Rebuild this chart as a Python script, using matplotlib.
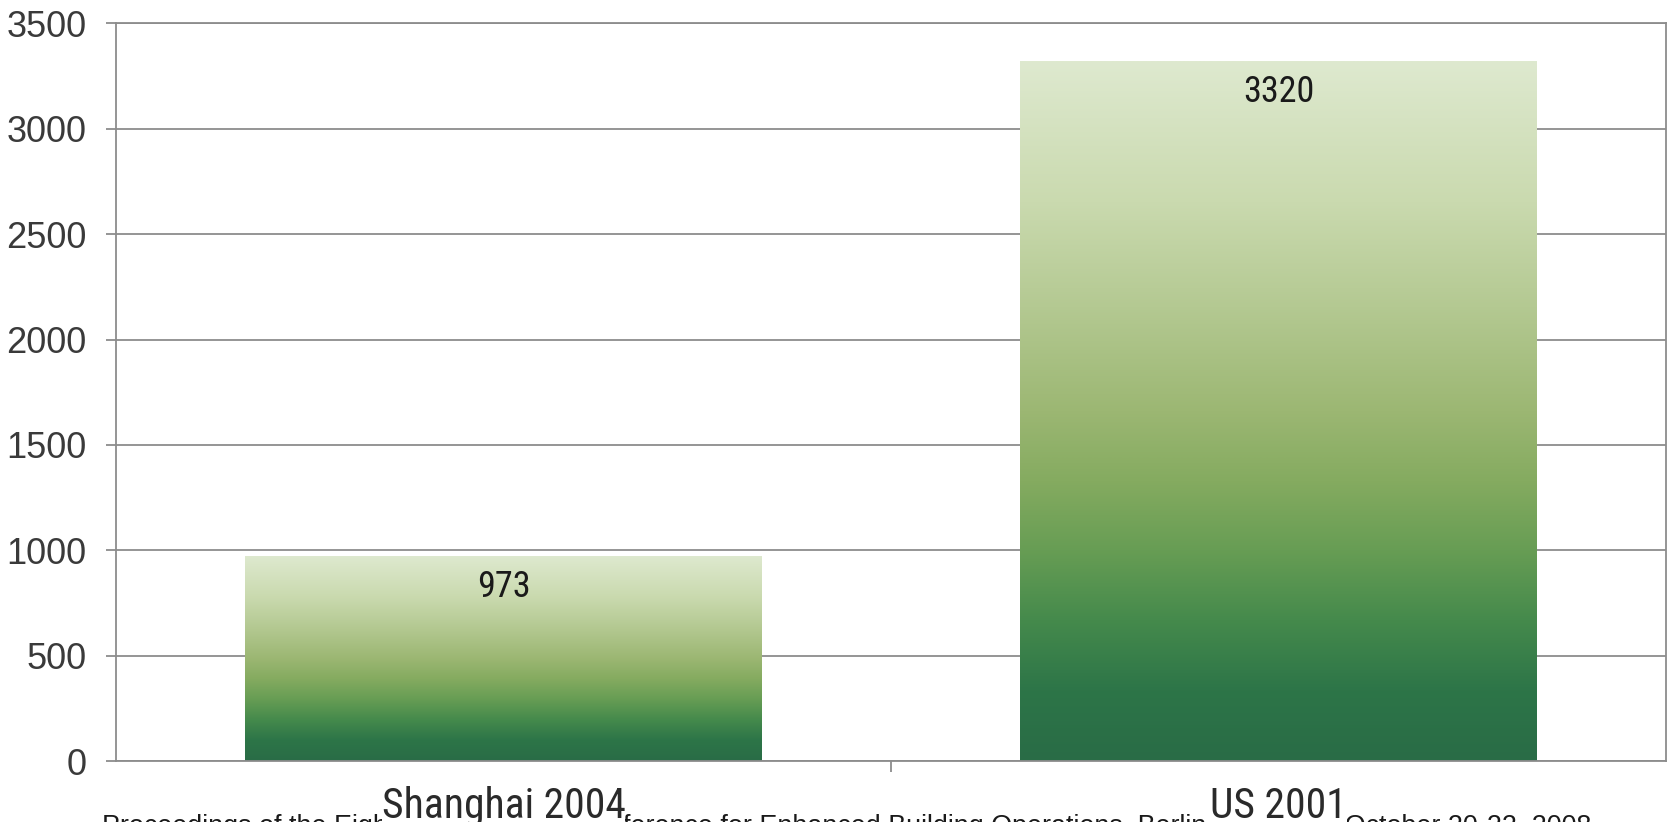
import numpy as np
import matplotlib.pyplot as plt
from matplotlib.colors import LinearSegmentedColormap

categories = ["Shanghai 2004", "US 2001"]
values = [973, 3320]
yticks = [0, 500, 1000, 1500, 2000, 2500, 3000, 3500]
footer = ("Proceedings of the Eighth International Conference for Enhanced Building "
          "Operations, Berlin, Germany, October 20-22, 2008")

# dark green at the bottom of each bar, pale at the top
grad = LinearSegmentedColormap.from_list("bargrad", [
    (0.00, "#296c46"),
    (0.10, "#2d7548"),
    (0.20, "#458a4c"),
    (0.30, "#679d54"),
    (0.40, "#85ab60"),
    (0.50, "#9cb773"),
    (0.65, "#b4c992"),
    (0.80, "#cadaaf"),
    (1.00, "#dee9cf"),
])

fig = plt.figure(figsize=(16.72, 8.22), dpi=100)
ax = fig.add_axes([116 / 1672, 1 - 761 / 822, 1550 / 1672, (761 - 23.5) / 822])

x = np.arange(len(categories))
bars = ax.bar(x, values, width=0.666, color="none", zorder=2)
ax.set_xlim(-0.5, len(categories) - 0.5)
ax.set_ylim(0, 3500)

# gradient fill clipped to each bar
g = np.linspace(0, 1, 256).reshape(-1, 1)
for b in bars:
    bx, by = b.get_x(), b.get_y()
    w, h = b.get_width(), b.get_height()
    im = ax.imshow(g, cmap=grad, origin="lower", aspect="auto",
                   extent=(bx, bx + w, by, by + h), zorder=2)
    im.set_clip_path(b)

for b, v in zip(bars, values):
    ax.annotate(str(v), (b.get_x() + b.get_width() / 2, v), xytext=(0, -22),
                textcoords="offset points", ha="center", va="center",
                fontsize=26, color="#1a1a1a", family="Roboto Condensed")

ax.set_yticks(yticks)
ax.yaxis.grid(True, color="#8c8c8c", lw=1.3, zorder=1)
ax.set_axisbelow(True)
ax.tick_params(axis="y", length=7, width=1.3, color="#8c8c8c", pad=14,
               labelsize=26, labelcolor="#3a3a3a")
for lab in ax.get_yticklabels():
    lab.set_family("Liberation Sans")

# single tick between the two categories
ax.set_xticks([0.5])
ax.set_xticklabels([""])
ax.tick_params(axis="x", length=8, width=1.3, color="#8c8c8c")

for s in ax.spines.values():
    s.set_color("#8c8c8c")
    s.set_linewidth(1.3)

# category labels sit on a tight white box over the footer line
for xi, c in zip(x, categories):
    ax.annotate(c, (xi, 0), xytext=(0, -18), textcoords="offset points",
                ha="center", va="top", fontsize=30, color="#2a2a2a",
                family="Roboto Condensed", annotation_clip=False,
                bbox=dict(facecolor="white", edgecolor="none", pad=0))

fig.text(102 / 1672, 1 - 814 / 822, footer, ha="left", va="top",
         fontsize=19.4, color="#1a1a1a", family="Liberation Sans", zorder=-1)

fig.savefig("out.png", dpi=100, facecolor="white")
